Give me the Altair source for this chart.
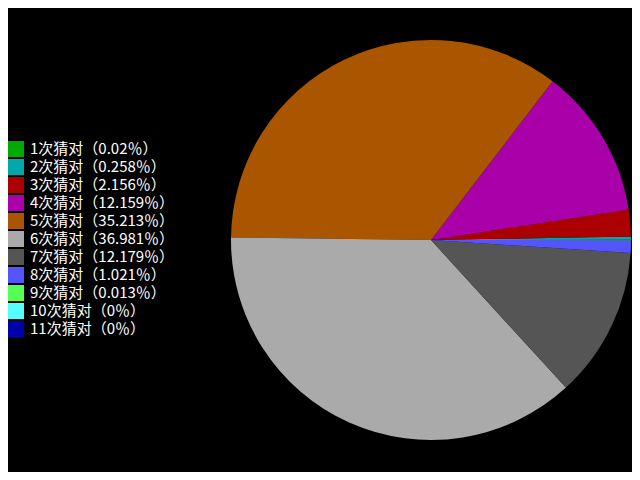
import altair as alt
import pandas as pd
import math

counts = ["1", "2", "3", "4", "5", "6", "7", "8", "9", "10", "11"]
percents = ["0.02", "0.258", "2.156", "12.159", "35.213", "36.981", "12.179", "1.021", "0.013", "0", "0"]
colors = ["#00AA00", "#00AAAA", "#AA0000", "#AA00AA", "#AA5500", "#AAAAAA",
          "#555555", "#5555FF", "#55FF55", "#55FFFF", "#0000AA"]

labels = [f"{c}次猜对（{p}％）" for c, p in zip(counts, percents)]
df = pd.DataFrame({
    "idx": list(range(len(counts))),
    "label": labels,
    "value": [float(p) for p in percents],
})

chart = alt.Chart(df).mark_arc(radius=200, stroke=None).encode(
    theta=alt.Theta("value:Q", stack=True,
                    scale=alt.Scale(range=[math.pi / 2, math.pi / 2 + 2 * math.pi])),
    order=alt.Order("idx:Q", sort="descending"),
    color=alt.Color("label:N", sort=labels,
                    scale=alt.Scale(domain=labels, range=colors),
                    legend=alt.Legend(title=None, orient="none", legendX=0, legendY=133,
                                      symbolType="square", symbolSize=256,
                                      symbolStrokeWidth=0, labelFontSize=15,
                                      labelColor="white", labelFont="Noto Sans CJK SC",
                                      labelOffset=6, rowPadding=2, padding=0,
                                      labelLimit=300)),
    x=alt.value(423),
    y=alt.value(232),
).properties(
    width=624, height=464, padding=0, autosize=alt.AutoSizeParams(type="none"),
    background="black",
).configure_view(stroke=None)

chart.save("out.html", embed_options={"renderer": "svg", "actions": False})
